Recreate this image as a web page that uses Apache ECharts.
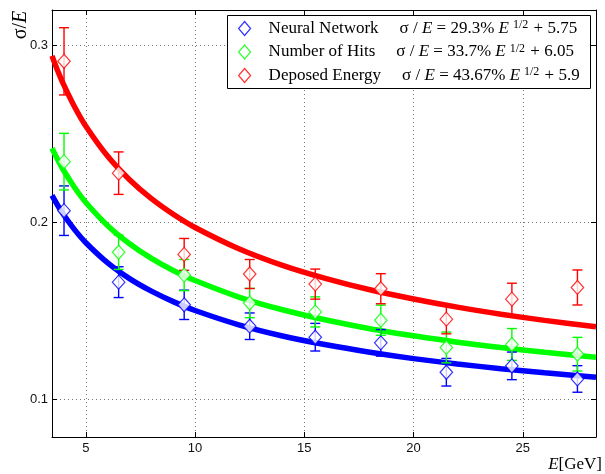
<!DOCTYPE html>
<html>
<head>
<meta charset="utf-8">
<script src="https://cdn.jsdelivr.net/npm/echarts@6/dist/echarts.min.js"></script>
<style>
html,body{margin:0;padding:0;background:#fff;}
#chart{width:605px;height:474px;}
</style>
</head>
<body>
<div id="chart"></div>
<script>
// ---- data ----
const energies = [4, 6.5, 9.5, 12.5, 15.5, 18.5, 21.5, 24.5, 27.5];
const nnValues = [0.2066, 0.1662, 0.1534, 0.1413, 0.1351, 0.1319, 0.1153, 0.1189, 0.1115];
const nnErrors = [0.014, 0.0087, 0.0083, 0.0075, 0.0078, 0.0075, 0.0078, 0.0078, 0.0075];
const hitsValues = [0.2343, 0.1831, 0.1702, 0.1544, 0.1494, 0.1447, 0.1293, 0.1310, 0.1255];
const hitsErrors = [0.016, 0.0097, 0.0088, 0.0083, 0.0085, 0.0085, 0.0087, 0.0090, 0.0095];
const depValues = [0.2910, 0.2278, 0.1819, 0.1708, 0.1651, 0.1625, 0.1453, 0.1566, 0.1632];
const depErrors = [0.019, 0.012, 0.009, 0.0082, 0.0085, 0.0085, 0.0083, 0.0090, 0.0099];

// fitted curves
const fitEnergies = [3.45, 3.7, 4, 4.5, 5, 6, 7, 8, 9, 10, 12, 14, 16, 18, 20, 22, 24, 26, 28.35];
const nnFit = [0.2152, 0.2098, 0.2040, 0.1956, 0.1885, 0.1771, 0.1682, 0.1611, 0.1552, 0.1502, 0.1421, 0.1358, 0.1308, 0.1266, 0.1230, 0.1200, 0.1173, 0.1150, 0.1125];
const hitsFit = [0.2419, 0.2357, 0.2290, 0.2194, 0.2112, 0.1981, 0.1879, 0.1796, 0.1728, 0.1671, 0.1578, 0.1506, 0.1448, 0.1399, 0.1359, 0.1323, 0.1293, 0.1266, 0.1238];
const depFit = [0.2941, 0.2860, 0.2774, 0.2649, 0.2543, 0.2373, 0.2241, 0.2134, 0.2046, 0.1971, 0.1851, 0.1757, 0.1682, 0.1619, 0.1567, 0.1521, 0.1481, 0.1446, 0.1410];

const seriesNames = ['Neural Network', 'Number of Hits', 'Deposed Energy'];
const fitCoefs = ['29.3', '33.7', '43.67'];
const fitConsts = ['5.75', '6.05', '5.9'];
const xTickLabels = ['5', '10', '15', '20', '25'];
const yTickLabels = ['0.1', '0.2', '0.3'];

const colors = ['#0000ff', '#00ff00', '#ff0000'];
const pointSets = [nnValues, hitsValues, depValues];
const errorSets = [nnErrors, hitsErrors, depErrors];
const fitSets = [nnFit, hitsFit, depFit];

const serif = 'Liberation Serif, Times New Roman, serif';
const sans = 'Liberation Sans, Arial, Helvetica, sans-serif';

const chart = echarts.init(document.getElementById('chart'), null, {renderer: 'canvas'});

function isMultiple(v, step) {
  const q = v / step;
  return Math.abs(q - Math.round(q)) < 1e-6;
}

const series = [];
// fit lines
fitSets.forEach((fit, i) => {
  series.push({
    type: 'line', name: seriesNames[i] + ' fit',
    data: fitEnergies.map((e, k) => [e, fit[k]]),
    showSymbol: false, symbol: 'none', smooth: 0.3,
    lineStyle: {color: colors[i], width: 5.5},
    z: 2, silent: true, clip: true
  });
});
// error bars
pointSets.forEach((vals, i) => {
  series.push({
    type: 'custom', name: seriesNames[i] + ' err',
    data: energies.map((e, k) => [e, vals[k], errorSets[i][k]]),
    z: 3, silent: true,
    renderItem: function (params, api) {
      const x = api.value(0), y = api.value(1), err = api.value(2);
      const top = api.coord([x, y + err]);
      const bot = api.coord([x, y - err]);
      const hw = 5;
      const st = {stroke: colors[i], lineWidth: 1.4, fill: null};
      return {
        type: 'group',
        children: [
          {type: 'line', shape: {x1: top[0], y1: top[1], x2: bot[0], y2: bot[1]}, style: st},
          {type: 'line', shape: {x1: top[0] - hw, y1: top[1], x2: top[0] + hw, y2: top[1]}, style: st},
          {type: 'line', shape: {x1: bot[0] - hw, y1: bot[1], x2: bot[0] + hw, y2: bot[1]}, style: st}
        ]
      };
    }
  });
});
// data points
pointSets.forEach((vals, i) => {
  series.push({
    type: 'scatter', name: seriesNames[i],
    data: energies.map((e, k) => [e, vals[k]]),
    symbol: 'diamond', symbolSize: [12.5, 14],
    itemStyle: {color: '#ffffff', borderColor: colors[i], borderWidth: 1.2},
    z: 4
  });
});

const richBase = {fontFamily: serif, fontSize: 17, color: '#000', lineHeight: 21};
const option = {
  animation: false,
  backgroundColor: '#ffffff',
  grid: {left: 52, right: 9, top: 10, bottom: 37, containLabel: false},
  xAxis: [
    {
      type: 'value', min: 3.45, max: 28.35, splitNumber: 5, position: 'bottom',
      axisLine: {show: true, onZero: false, lineStyle: {color: '#000', width: 1}},
      axisTick: {show: true, inside: true, length: 5, lineStyle: {color: '#000'}},
      axisLabel: {
        showMinLabel: false, showMaxLabel: false, color: '#111', fontSize: 13, fontFamily: sans, margin: 5,
        formatter: v => isMultiple(v, 5) ? xTickLabels[xTickLabels.indexOf(String(Math.round(v)))] || '' : ''
      },
      splitLine: {show: true, lineStyle: {type: [1, 3], color: '#777', width: 1}}
    },
    {
      type: 'value', min: 3.45, max: 28.35, splitNumber: 5, position: 'top',
      axisLine: {show: true, onZero: false, lineStyle: {color: '#000', width: 1}},
      axisTick: {show: true, inside: true, length: 5, lineStyle: {color: '#000'}},
      axisLabel: {show: false}, splitLine: {show: false}
    }
  ],
  yAxis: [
    {
      type: 'value', min: 0.0787, max: 0.32, splitNumber: 3, position: 'left',
      axisLine: {show: true, onZero: false, lineStyle: {color: '#000', width: 1}},
      axisTick: {show: true, inside: true, length: 5, lineStyle: {color: '#000'}},
      axisLabel: {
        showMinLabel: false, showMaxLabel: false, color: '#111', fontSize: 13, fontFamily: sans, margin: 4,
        formatter: v => isMultiple(v, 0.1) ? (yTickLabels[yTickLabels.indexOf(v.toFixed(1))] || '') : ''
      },
      splitLine: {show: true, lineStyle: {type: [1, 3], color: '#777', width: 1}}
    },
    {
      type: 'value', min: 0.0787, max: 0.32, splitNumber: 3, position: 'right',
      axisLine: {show: true, onZero: false, lineStyle: {color: '#000', width: 1}},
      axisTick: {show: true, inside: true, length: 5, lineStyle: {color: '#000'}},
      axisLabel: {show: false}, splitLine: {show: false}
    }
  ],
  legend: {
    orient: 'vertical', left: 238, top: 18, padding: 0,
    itemWidth: 12, itemHeight: 14, itemGap: 4.5, icon: 'diamond',
    z: 5,
    data: seriesNames.map((n, i) => ({name: n, itemStyle: {color: '#ffffff', borderColor: colors[i], borderWidth: 1.2}})),
    formatter: function (name) {
      const i = seriesNames.indexOf(name);
      return '{n|' + name + '}{f|σ / }{i|E}{f| = ' + fitCoefs[i] + '% }{i|E}{s|1/2}{f| + ' + fitConsts[i] + '}';
    },
    textStyle: {
      fontFamily: serif, fontSize: 17, color: '#000',
      rich: {
        n: Object.assign({}, richBase, {padding: [0, 21, 0, 13]}),
        f: Object.assign({}, richBase),
        i: Object.assign({}, richBase, {fontStyle: 'italic'}),
        s: {fontFamily: serif, fontSize: 12, color: '#000', lineHeight: 12, verticalAlign: 'top', padding: [1, 1, 0, 4]}
      }
    }
  },
  graphic: [
    {
      type: 'rect', left: 227, top: 15, z: 3,
      shape: {width: 363, height: 73},
      style: {fill: '#ffffff', stroke: '#000', lineWidth: 1}
    },
    {
      type: 'text', x: 21, y: 25, rotation: Math.PI / 2, z: 5,
      style: {
        text: '{a|σ/}{b|E}', align: 'center', verticalAlign: 'middle',
        rich: {
          a: {fontFamily: serif, fontSize: 20, fill: '#000'},
          b: {fontFamily: serif, fontSize: 20, fontStyle: 'italic', fill: '#000'}
        }
      }
    },
    {
      type: 'text', x: 602, y: 465, z: 5,
      style: {
        text: '{b|E}{a|[GeV]}', align: 'right', verticalAlign: 'middle',
        rich: {
          a: {fontFamily: serif, fontSize: 17, fill: '#000'},
          b: {fontFamily: serif, fontSize: 17, fontStyle: 'italic', fill: '#000'}
        }
      }
    }
  ],
  series: series
};
chart.setOption(option);
</script>
</body>
</html>
